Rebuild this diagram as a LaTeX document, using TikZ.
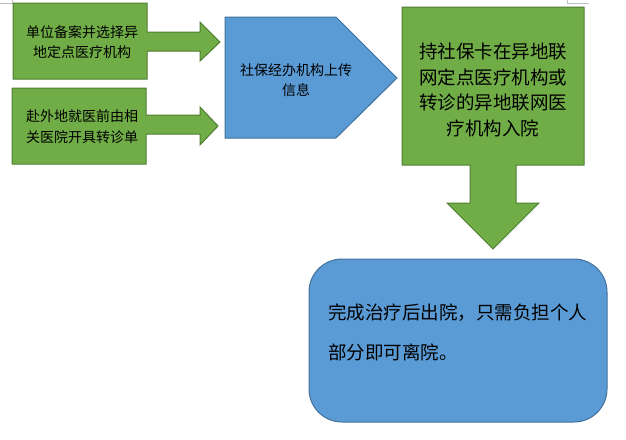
\documentclass[tikz,border=0pt]{standalone}
\usepackage{fontspec}
\newfontfamily\cjk{Noto Sans CJK SC}
\usepackage{xcolor}
\definecolor{boxgreen}{RGB}{112,173,71}
\definecolor{edgegreen}{RGB}{80,126,50}
\definecolor{boxblue}{RGB}{91,155,213}
\definecolor{edgeblue}{RGB}{65,113,156}
\definecolor{markgray}{RGB}{191,191,191}
\usetikzlibrary{positioning}
\newcommand{\cjksize}[2]{\cjk\fontsize{#1}{#2}\selectfont}

\begin{document}
\begin{tikzpicture}[x=1pt,y=-1pt,
  greenshape/.style={fill=boxgreen,draw=edgegreen,line width=1pt,line join=miter},
  blueshape/.style={fill=boxblue,draw=edgeblue,line width=1pt,line join=miter},
  steptext/.style={inner sep=0pt,align=center,text=black}]
  \useasboundingbox (0,0) rectangle (626,439);
  % page corner marks
  \draw[markgray,line width=0.8pt] (0,3) -- (12,3) -- (12,0);
  \draw[markgray,line width=0.8pt] (567,0) -- (567,3) -- (589,3);
  % left boxes with right arrows
  \draw[greenshape] (13,3) -- (147,3) -- (147,32) -- (200,32) -- (200,22) -- (220,42)
    -- (200,61) -- (200,51) -- (147,51) -- (147,79) -- (13,79) -- cycle;
  \draw[greenshape] (12,88) -- (146,88) -- (146,115) -- (200,115) -- (200,107) -- (218,126)
    -- (200,145) -- (200,134) -- (146,134) -- (146,164) -- (12,164) -- cycle;
  % upload step
  \draw[blueshape] (225,17) -- (336,17) -- (397,78) -- (336,138) -- (225,138) -- cycle;
  % admission with down arrow
  \draw[greenshape] (402,7) -- (584,7) -- (584,165) -- (516,165) -- (516,203) -- (539,203)
    -- (493,249) -- (447,203) -- (470,203) -- (470,165) -- (402,165) -- cycle;
  % discharge
  \draw[blueshape,rounded corners=33pt] (309,259) rectangle (607,422);
  \node[steptext,font=\cjksize{14}{20.5}] (record) at (82,42) {单位备案并选择异\\地定点医疗机构};
  \node[steptext,font=\cjksize{14}{21}] (referral) at (82,126.5) {赴外地就医前由相\\关医院开具转诊单};
  \node[steptext,font=\cjksize{14}{20}] (upload) at (296,80) {社保经办机构上传\\信息};
  \node[steptext,font=\cjksize{18.5}{25.5}] (admit) at (493,90) {持社保卡在异地联\\网定点医疗机构或\\转诊的异地联网医\\疗机构入院};
  \node[steptext,align=left,anchor=west,font=\cjksize{18.5}{40}] (leave) at (328,332) {完成治疗后出院，只需负担个人\\部分即可离院。};
\end{tikzpicture}
\end{document}
